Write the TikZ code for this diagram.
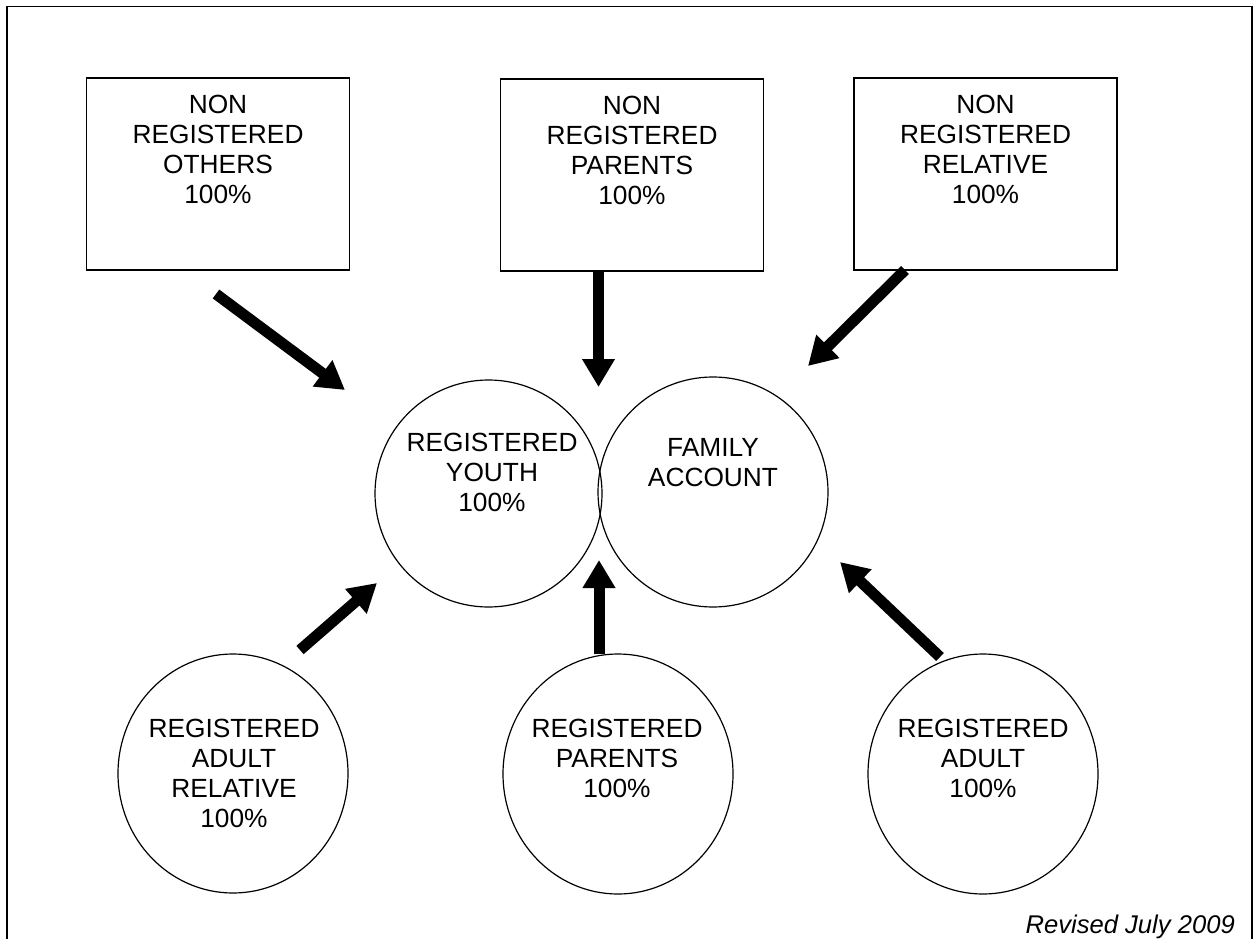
\documentclass[tikz,border=0pt]{standalone}
\usepackage{fontspec}
\setmainfont{Liberation Sans}
\usetikzlibrary{arrows.meta,positioning,shapes.geometric}

\tikzset{
  boxnode/.style={draw,line width=1.6pt,minimum width=263pt,minimum height=192pt,inner sep=0pt},
  ringnode/.style={draw,ellipse,line width=1.2pt,inner sep=0pt},
  txt/.style={align=center,inner sep=0pt,anchor=north,font=\fontsize{26.3pt}{30pt}\selectfont},
  bigarrow/.style={line width=11pt,-{Triangle[length=28pt,width=31pt]}}
}

\begin{document}
\begin{tikzpicture}[x=1pt,y=-1pt]
  \useasboundingbox (0,0) rectangle (1255,939);
  \clip (0,0) rectangle (1255,939);

  % frame (open at the bottom)
  \draw[line width=1.6pt] (6.7,960) -- (6.7,6.7) -- (1252,6.7) -- (1252,960);

  % top boxes
  \node[boxnode] (nro) at (218,174) {};
  \node[boxnode] (nrp) at (632,175) {};
  \node[boxnode] (nrr) at (985.5,174) {};
  \node[txt,below=17.6pt of nro.north] (nro-t) {NON\\REGISTERED\\OTHERS\\100\%};
  \node[txt,below=17.6pt of nrp.north] (nrp-t) {NON\\REGISTERED\\PARENTS\\100\%};
  \node[txt,below=17.6pt of nrr.north] (nrr-t) {NON\\REGISTERED\\RELATIVE\\100\%};

  % centre circles
  \node[ringnode,minimum width=227pt,minimum height=227pt] (yth) at (488.5,493.5) {};
  \node[ringnode,minimum width=230pt,minimum height=230pt] (fam) at (713,492) {};
  \node[txt] (yth-t) at (492,432.6) {REGISTERED\\YOUTH\\100\%};
  \node[txt] (fam-t) at (713,438.6) {FAMILY\\ACCOUNT};

  % bottom circles
  \node[ringnode,minimum width=230pt,minimum height=239pt] (rar) at (233,773.5) {};
  \node[ringnode,minimum width=230pt,minimum height=240pt] (rpa) at (618,774) {};
  \node[ringnode,minimum width=230pt,minimum height=240pt] (rad) at (983,774) {};
  \node[txt] (rar-t) at (234,718.6) {REGISTERED\\ADULT\\RELATIVE\\100\%};
  \node[txt] (rpa-t) at (617,718.6) {REGISTERED\\PARENTS\\100\%};
  \node[txt] (rad-t) at (983,718.6) {REGISTERED\\ADULT\\100\%};

  % arrow ends
  \coordinate (a1s) at (216,294);   \coordinate (a1e) at (345,390);
  \coordinate (a2s) at (598.5,271); \coordinate (a2e) at (598.5,387);
  \coordinate (a3s) at (905,270);   \coordinate (a3e) at (808,366);
  \coordinate (a4s) at (300,650);   \coordinate (a4e) at (377,583);
  \coordinate (a5s) at (599,654);   \coordinate (a5e) at (599,560);
  \coordinate (a6s) at (940,657);   \coordinate (a6e) at (840,562);

  % arrows
  \foreach \s/\e in {a1s/a1e,a2s/a2e,a3s/a3e,a4s/a4e,a5s/a5e,a6s/a6e}
    \draw[bigarrow] (\s) -- (\e);

  \node[anchor=base east,inner sep=0pt,font=\itshape\fontsize{25.6pt}{30pt}\selectfont] (rev) at (1235,933) {Revised July 2009};
\end{tikzpicture}
\end{document}
